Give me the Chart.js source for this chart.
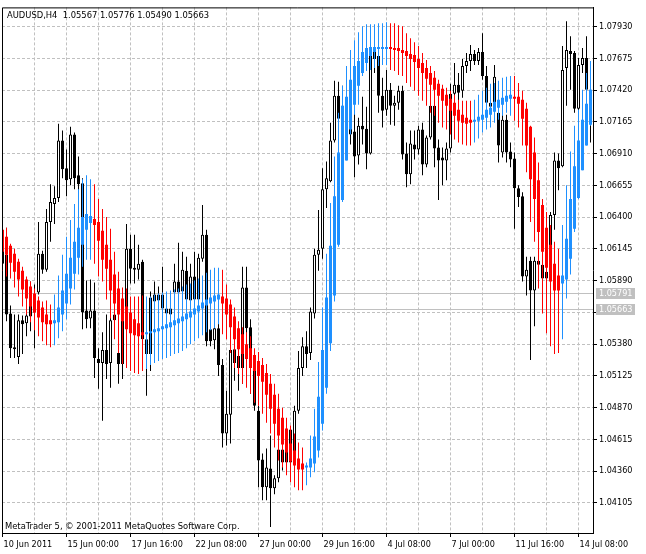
<!DOCTYPE html>
<html>
<head>
<meta charset="utf-8">
<script src="https://cdn.jsdelivr.net/npm/chart.js@4.4.1/dist/chart.umd.min.js"></script>
<style>
  html, body { margin: 0; padding: 0; background: #fff; overflow: hidden; }
  #wrap { position: relative; width: 646px; height: 554px; }
</style>
</head>
<body>
<div id="wrap"><canvas id="chart"></canvas></div>
<script>
// --- texts ---
const symbolTitle = 'AUDUSD,H4  1.05567 1.05776 1.05490 1.05663';
const copyright = 'MetaTrader 5, \u00A9 2001-2011 MetaQuotes Software Corp.';

// one label every 16 bars, one grid line every 8 bars
const dateLabels = ['10 Jun 2011', '15 Jun 00:00', '17 Jun 16:00', '22 Jun 08:00', '27 Jun 00:00',
  '29 Jun 16:00', '4 Jul 08:00', '7 Jul 00:00', '11 Jul 16:00', '14 Jul 08:00'];
const labelStep = 16;
const gridStep = 8;

const priceTicks = [1.04105, 1.04360, 1.04615, 1.04870, 1.05125, 1.05380, 1.05635, 1.05890,
  1.06145, 1.06400, 1.06655, 1.06910, 1.07165, 1.07420, 1.07675, 1.07930];
const priceMin = 1.03862;
const priceMax = 1.08084;

const askPrice = 1.05791;
const bidPrice = 1.05663;

// --- AUDUSD H4 candles ---
const candleOpen = [
  1.06153, 1.06097, 1.05626, 1.05355, 1.05275, 1.05570, 1.05546, 1.05738, 1.05762, 1.05794,
  1.06105, 1.05977, 1.06360, 1.06504, 1.06552, 1.07015, 1.06791, 1.06704, 1.07063, 1.06735,
  1.06672, 1.05650, 1.05586, 1.05650, 1.05259, 1.05227, 1.05331, 1.05227, 1.05618, 1.05307,
  1.05219, 1.05666, 1.06145, 1.05993, 1.05977, 1.06041, 1.05419, 1.05299, 1.05778, 1.05730,
  1.05778, 1.05666, 1.05618, 1.05794, 1.05882, 1.05802, 1.05969, 1.05730, 1.05922, 1.05738,
  1.06065, 1.06257, 1.05499, 1.05411, 1.05507, 1.05211, 1.04661, 1.04812, 1.05339, 1.05283,
  1.05187, 1.05834, 1.05515, 1.05187, 1.04844, 1.04453, 1.04230, 1.04381, 1.04222, 1.04302,
  1.04533, 1.04429, 1.04693, 1.04445, 1.04844, 1.05187, 1.05363, 1.05307, 1.05626, 1.06097,
  1.06145, 1.06624, 1.06688, 1.07015, 1.07374, 1.07294, 1.07206, 1.07110, 1.07087, 1.06895,
  1.07134, 1.07110, 1.06911, 1.07725, 1.07693, 1.07374, 1.07262, 1.07422, 1.07294, 1.07318,
  1.07414, 1.06911, 1.06743, 1.06983, 1.06943, 1.07103, 1.06823, 1.07039, 1.07294, 1.06959,
  1.06879, 1.06855, 1.06951, 1.07390, 1.07462, 1.07414, 1.07613, 1.07653, 1.07709, 1.07653,
  1.07725, 1.07533, 1.07318, 1.07286, 1.07238, 1.06919, 1.07182, 1.06927, 1.06871, 1.06632,
  1.06568, 1.05922, 1.06049, 1.05810, 1.06049, 1.06017, 1.05961, 1.05906, 1.06416, 1.06855,
  1.06807, 1.07597, 1.07733, 1.07717, 1.07270, 1.07621, 1.07677, 1.07422
];
const candleHigh = [
  1.06201, 1.06313, 1.05690, 1.05618, 1.05618, 1.05610, 1.05658, 1.05882, 1.05858, 1.06360,
  1.06129, 1.06464, 1.06664, 1.06648, 1.07150, 1.07095, 1.06943, 1.07126, 1.07079, 1.06887,
  1.06712, 1.05890, 1.05898, 1.05874, 1.05347, 1.05475, 1.05618, 1.05618, 1.05698, 1.05674,
  1.05794, 1.06344, 1.06257, 1.06257, 1.06177, 1.06057, 1.05459, 1.05802, 1.05882, 1.05842,
  1.06001, 1.05698, 1.05746, 1.06025, 1.06193, 1.06121, 1.06081, 1.06025, 1.06121, 1.06105,
  1.06496, 1.06297, 1.05602, 1.05578, 1.05682, 1.05259, 1.05004, 1.05403, 1.05483, 1.05363,
  1.06001, 1.06001, 1.05578, 1.05299, 1.04884, 1.04501, 1.04541, 1.04645, 1.04326, 1.04605,
  1.04605, 1.04717, 1.04709, 1.04884, 1.05323, 1.05435, 1.05483, 1.05674, 1.06145, 1.06456,
  1.06791, 1.06847, 1.07158, 1.07494, 1.07486, 1.07454, 1.07238, 1.07238, 1.07238, 1.07198,
  1.07366, 1.07286, 1.07725, 1.07757, 1.07733, 1.07518, 1.07581, 1.07477, 1.07374, 1.07454,
  1.07454, 1.06999, 1.07095, 1.07095, 1.07134, 1.07158, 1.07055, 1.07342, 1.07318, 1.07023,
  1.06959, 1.06999, 1.07470, 1.07637, 1.07557, 1.07669, 1.07717, 1.07781, 1.07741, 1.07757,
  1.07877, 1.07613, 1.07358, 1.07621, 1.07318, 1.07222, 1.07222, 1.06999, 1.06919, 1.06656,
  1.06599, 1.06081, 1.06081, 1.06081, 1.06121, 1.06057, 1.06025, 1.06440, 1.06919, 1.06911,
  1.07773, 1.07972, 1.07853, 1.07733, 1.07677, 1.07757, 1.07853, 1.07597
];
const candleLow = [
  1.05953, 1.05562, 1.05267, 1.05267, 1.05219, 1.05299, 1.05443, 1.05483, 1.05347, 1.05778,
  1.05945, 1.05961, 1.06201, 1.06344, 1.06520, 1.06712, 1.06568, 1.06656, 1.06624, 1.06616,
  1.05499, 1.05507, 1.05507, 1.05108, 1.05020, 1.04764, 1.05100, 1.05028, 1.05499, 1.05060,
  1.05100, 1.05499, 1.05866, 1.05866, 1.05898, 1.05187, 1.04964, 1.05163, 1.05642, 1.05626,
  1.05626, 1.05578, 1.05578, 1.05706, 1.05682, 1.05722, 1.05722, 1.05706, 1.05722, 1.05722,
  1.06041, 1.05363, 1.05363, 1.05339, 1.05124, 1.04549, 1.04565, 1.04581, 1.05084, 1.05004,
  1.05060, 1.05443, 1.04980, 1.04844, 1.04230, 1.04126, 1.04126, 1.03910, 1.04174, 1.04270,
  1.04365, 1.04397, 1.04381, 1.04405, 1.04820, 1.05124, 1.05187, 1.05251, 1.05586, 1.05969,
  1.06065, 1.06472, 1.06680, 1.06999, 1.06919, 1.07158, 1.06919, 1.06983, 1.06720, 1.06823,
  1.06983, 1.06783, 1.06903, 1.07557, 1.07238, 1.07119, 1.07214, 1.07142, 1.07134, 1.07262,
  1.06863, 1.06640, 1.06664, 1.06863, 1.06903, 1.06735, 1.06799, 1.07023, 1.06799, 1.06536,
  1.06656, 1.06696, 1.06919, 1.07318, 1.07238, 1.07358, 1.07557, 1.07573, 1.07621, 1.07621,
  1.07502, 1.07254, 1.07222, 1.07270, 1.06839, 1.06879, 1.06839, 1.06799, 1.06305, 1.06480,
  1.05882, 1.05770, 1.05251, 1.05523, 1.05922, 1.05802, 1.05842, 1.05866, 1.06297, 1.06616,
  1.06799, 1.07294, 1.07422, 1.07238, 1.07222, 1.07557, 1.07158, 1.06999
];
const candleClose = [
  1.06025, 1.05618, 1.05347, 1.05339, 1.05570, 1.05538, 1.05610, 1.05602, 1.05634, 1.06105,
  1.05977, 1.06360, 1.06520, 1.06552, 1.07015, 1.06783, 1.06696, 1.07063, 1.06712, 1.06664,
  1.05634, 1.05578, 1.05650, 1.05267, 1.05227, 1.05331, 1.05219, 1.05570, 1.05570, 1.05219,
  1.05658, 1.06145, 1.05985, 1.05977, 1.06025, 1.05419, 1.05299, 1.05754, 1.05722, 1.05778,
  1.05666, 1.05626, 1.05666, 1.05882, 1.05794, 1.05977, 1.05738, 1.05922, 1.05738, 1.06073,
  1.06257, 1.05403, 1.05403, 1.05507, 1.05211, 1.04661, 1.04820, 1.05331, 1.05227, 1.05187,
  1.05834, 1.05507, 1.05187, 1.04884, 1.04445, 1.04230, 1.04389, 1.04222, 1.04302, 1.04533,
  1.04429, 1.04693, 1.04429, 1.04844, 1.05187, 1.05363, 1.05299, 1.05642, 1.06097, 1.06137,
  1.06624, 1.06712, 1.07015, 1.07374, 1.07190, 1.07190, 1.07095, 1.07063, 1.06887, 1.07134,
  1.07103, 1.06911, 1.07693, 1.07669, 1.07374, 1.07254, 1.07422, 1.07294, 1.07318, 1.07414,
  1.06903, 1.06743, 1.06991, 1.06943, 1.07103, 1.06823, 1.07039, 1.07294, 1.06951, 1.06855,
  1.06855, 1.06951, 1.07390, 1.07462, 1.07398, 1.07613, 1.07653, 1.07709, 1.07653, 1.07725,
  1.07533, 1.07318, 1.07286, 1.07526, 1.06975, 1.07182, 1.06919, 1.06863, 1.06632, 1.06560,
  1.05922, 1.05977, 1.05810, 1.06049, 1.06017, 1.05906, 1.05906, 1.06416, 1.06855, 1.06791,
  1.07581, 1.07741, 1.07709, 1.07270, 1.07621, 1.07677, 1.07422, 1.07238
];

// --- colour candle indicator (blue = rising, red = falling) ---
const indOpen = [
  1.06297, 1.06241, 1.06169, 1.06105, 1.06041, 1.05969, 1.05898, 1.05842, 1.05786, 1.05730,
  1.05674, 1.05618, 1.05570, 1.05546, 1.05554, 1.05618, 1.05706, 1.05826, 1.05945, 1.06073,
  1.06177, 1.06297, 1.06352, 1.06384, 1.06360, 1.06289, 1.06177, 1.06057, 1.05938, 1.05826,
  1.05746, 1.05682, 1.05634, 1.05578, 1.05546, 1.05475, 1.05459, 1.05467, 1.05475, 1.05483,
  1.05499, 1.05507, 1.05515, 1.05531, 1.05546, 1.05562, 1.05578, 1.05594, 1.05618, 1.05642,
  1.05666, 1.05690, 1.05706, 1.05722, 1.05738, 1.05762, 1.05746, 1.05698, 1.05602, 1.05507,
  1.05459, 1.05379, 1.05347, 1.05291, 1.05243, 1.05211, 1.05147, 1.05060, 1.04972, 1.04860,
  1.04788, 1.04701, 1.04581, 1.04525, 1.04461, 1.04421, 1.04389, 1.04389, 1.04421, 1.04525,
  1.04740, 1.05028, 1.05387, 1.05770, 1.06177, 1.06536, 1.06855, 1.07103, 1.07302, 1.07454,
  1.07557, 1.07637, 1.07693, 1.07725, 1.07749, 1.07749, 1.07749, 1.07765, 1.07757, 1.07757,
  1.07741, 1.07733, 1.07709, 1.07701, 1.07669, 1.07637, 1.07597, 1.07557, 1.07518, 1.07470,
  1.07430, 1.07382, 1.07350, 1.07318, 1.07262, 1.07222, 1.07198, 1.07182, 1.07166, 1.07174,
  1.07182, 1.07198, 1.07222, 1.07246, 1.07278, 1.07302, 1.07326, 1.07350, 1.07366, 1.07366,
  1.07342, 1.07270, 1.07126, 1.06919, 1.06696, 1.06496, 1.06313, 1.06177, 1.06025, 1.05930,
  1.05866, 1.05898, 1.06065, 1.06305, 1.06552, 1.06775, 1.06975, 1.07142
];
const indHigh = [
  1.06313, 1.06313, 1.06185, 1.06145, 1.06065, 1.06001, 1.05922, 1.05882, 1.05826, 1.05762,
  1.05722, 1.05730, 1.05698, 1.05778, 1.05930, 1.06097, 1.06241, 1.06376, 1.06504, 1.06624,
  1.06704, 1.06735, 1.06704, 1.06664, 1.06544, 1.06464, 1.06400, 1.06305, 1.06121, 1.05961,
  1.05834, 1.05826, 1.05762, 1.05762, 1.05762, 1.05770, 1.05762, 1.05762, 1.05778, 1.05786,
  1.05794, 1.05802, 1.05810, 1.05818, 1.05826, 1.05842, 1.05858, 1.05866, 1.05890, 1.05906,
  1.05930, 1.05953, 1.05977, 1.05993, 1.05993, 1.05977, 1.05858, 1.05738, 1.05674, 1.05562,
  1.05515, 1.05475, 1.05443, 1.05347, 1.05315, 1.05267, 1.05219, 1.05140, 1.05060, 1.04980,
  1.04868, 1.04788, 1.04725, 1.04661, 1.04589, 1.04549, 1.04429, 1.04645, 1.04860, 1.05235,
  1.05674, 1.06105, 1.06512, 1.06887, 1.07238, 1.07454, 1.07613, 1.07741, 1.07821, 1.07885,
  1.07933, 1.07948, 1.07948, 1.07948, 1.07956, 1.07956, 1.07964, 1.07956, 1.07956, 1.07940,
  1.07933, 1.07877, 1.07837, 1.07805, 1.07773, 1.07717, 1.07661, 1.07613, 1.07573, 1.07502,
  1.07462, 1.07438, 1.07414, 1.07382, 1.07342, 1.07334, 1.07334, 1.07334, 1.07342, 1.07382,
  1.07414, 1.07438, 1.07470, 1.07477, 1.07494, 1.07518, 1.07526, 1.07533, 1.07533, 1.07477,
  1.07414, 1.07318, 1.07134, 1.07039, 1.06839, 1.06544, 1.06440, 1.06336, 1.06201, 1.06145,
  1.06336, 1.06656, 1.06927, 1.07134, 1.07262, 1.07422, 1.07557, 1.07653
];
const indLow = [
  1.05953, 1.05922, 1.05906, 1.05834, 1.05762, 1.05682, 1.05618, 1.05554, 1.05491, 1.05443,
  1.05403, 1.05371, 1.05355, 1.05371, 1.05427, 1.05483, 1.05578, 1.05698, 1.05818, 1.05938,
  1.06001, 1.06057, 1.06057, 1.06025, 1.05922, 1.05882, 1.05738, 1.05586, 1.05419, 1.05307,
  1.05219, 1.05187, 1.05163, 1.05147, 1.05140, 1.05163, 1.05179, 1.05211, 1.05227, 1.05243,
  1.05259, 1.05267, 1.05283, 1.05299, 1.05307, 1.05323, 1.05347, 1.05379, 1.05403, 1.05427,
  1.05451, 1.05475, 1.05491, 1.05507, 1.05538, 1.05459, 1.05419, 1.05307, 1.05187, 1.05140,
  1.05060, 1.05028, 1.04980, 1.04908, 1.04884, 1.04820, 1.04748, 1.04661, 1.04549, 1.04445,
  1.04389, 1.04326, 1.04270, 1.04230, 1.04206, 1.04206, 1.04246, 1.04310, 1.04349, 1.04469,
  1.04685, 1.04980, 1.05323, 1.05722, 1.06161, 1.06520, 1.06855, 1.07063, 1.07222, 1.07302,
  1.07533, 1.07573, 1.07581, 1.07597, 1.07613, 1.07621, 1.07621, 1.07581, 1.07573, 1.07541,
  1.07533, 1.07477, 1.07446, 1.07414, 1.07374, 1.07334, 1.07294, 1.07238, 1.07214, 1.07158,
  1.07119, 1.07103, 1.07063, 1.07023, 1.06999, 1.06983, 1.06975, 1.06975, 1.06999, 1.07031,
  1.07079, 1.07103, 1.07119, 1.07158, 1.07182, 1.07214, 1.07238, 1.07214, 1.07174, 1.07119,
  1.06975, 1.06759, 1.06360, 1.06201, 1.05826, 1.05626, 1.05467, 1.05363, 1.05299, 1.05307,
  1.05419, 1.05746, 1.05938, 1.06280, 1.06544, 1.06775, 1.06975, 1.07134
];
const indClose = [
  1.06121, 1.06097, 1.06033, 1.05961, 1.05898, 1.05818, 1.05746, 1.05682, 1.05634, 1.05594,
  1.05554, 1.05538, 1.05538, 1.05570, 1.05674, 1.05810, 1.05945, 1.06073, 1.06201, 1.06313,
  1.06400, 1.06424, 1.06408, 1.06336, 1.06209, 1.06057, 1.05985, 1.05810, 1.05706, 1.05618,
  1.05562, 1.05499, 1.05467, 1.05451, 1.05443, 1.05451, 1.05475, 1.05483, 1.05499, 1.05507,
  1.05523, 1.05538, 1.05554, 1.05570, 1.05586, 1.05602, 1.05626, 1.05642, 1.05666, 1.05690,
  1.05714, 1.05738, 1.05754, 1.05770, 1.05778, 1.05706, 1.05618, 1.05515, 1.05419, 1.05339,
  1.05299, 1.05259, 1.05187, 1.05163, 1.05124, 1.05076, 1.04972, 1.04860, 1.04740, 1.04645,
  1.04573, 1.04509, 1.04437, 1.04405, 1.04373, 1.04373, 1.04405, 1.04461, 1.04637, 1.04956,
  1.05331, 1.05754, 1.06169, 1.06568, 1.06919, 1.07294, 1.07366, 1.07502, 1.07613, 1.07653,
  1.07725, 1.07757, 1.07765, 1.07765, 1.07765, 1.07765, 1.07765, 1.07749, 1.07741, 1.07733,
  1.07717, 1.07693, 1.07669, 1.07645, 1.07597, 1.07557, 1.07510, 1.07462, 1.07422, 1.07374,
  1.07334, 1.07294, 1.07254, 1.07214, 1.07174, 1.07158, 1.07150, 1.07158, 1.07182, 1.07206,
  1.07222, 1.07262, 1.07278, 1.07326, 1.07342, 1.07358, 1.07374, 1.07382, 1.07350, 1.07310,
  1.07190, 1.06975, 1.06704, 1.06544, 1.06280, 1.06121, 1.05993, 1.05882, 1.05810, 1.05810,
  1.05930, 1.06225, 1.06544, 1.06807, 1.07015, 1.07182, 1.07310, 1.07422
];

// --- styling ---
const UP_COLOR = '#1E90FF';
const DOWN_COLOR = '#FF0000';
const GRID_COLOR = '#C0C0C0';
const LEVEL_COLOR = '#C0C0C0';
const FONT_FAMILY = "'DejaVu Sans Condensed', 'DejaVu Sans', sans-serif";
const FONT_SIZE = 9;
const FONT = FONT_SIZE + 'px ' + FONT_FAMILY;
const TEXT_FONT = '9.3px ' + FONT_FAMILY;

const barIdx = candleOpen.map((_, i) => i);
const candleUp = barIdx.map(i => candleClose[i] >= candleOpen[i]);
const indUp = barIdx.map(i => indClose[i] >= indOpen[i]);
const gridIdx = [];
for (let v = 0; v < barIdx.length; v += gridStep) gridIdx.push(v);

const barCommon = { grouped: false, borderSkipped: false, inflateAmount: 0, borderWidth: 0 };

const chartDecor = {
  id: 'chartDecor',
  beforeDatasetsDraw(chart) {
    const { ctx, chartArea: a, scales: { y } } = chart;
    ctx.save();
    ctx.strokeStyle = LEVEL_COLOR;
    ctx.lineWidth = 1;
    [askPrice, bidPrice].forEach(p => {
      const py = Math.round(y.getPixelForValue(p)) + 0.5;
      ctx.beginPath();
      ctx.moveTo(a.left, py);
      ctx.lineTo(a.right, py);
      ctx.stroke();
    });
    ctx.restore();
  },
  afterDraw(chart) {
    const { ctx, chartArea: a, scales: { y } } = chart;
    ctx.save();
    // left and top edge of the frame
    ctx.strokeStyle = '#000';
    ctx.lineWidth = 1;
    ctx.beginPath();
    ctx.moveTo(a.left + 0.5, a.bottom);
    ctx.lineTo(a.left + 0.5, a.top + 0.5);
    ctx.lineTo(a.right, a.top + 0.5);
    ctx.stroke();

    // ask / bid price tags on the price scale
    ctx.font = FONT;
    ctx.textAlign = 'left';
    ctx.textBaseline = 'middle';
    [askPrice, bidPrice].forEach(p => {
      const py = Math.round(y.getPixelForValue(p));
      ctx.fillStyle = LEVEL_COLOR;
      ctx.fillRect(a.right + 3, py - 5, 39, 11);
      ctx.fillStyle = '#fff';
      ctx.fillText(p.toFixed(5), a.right + 6, py + 0.5);
    });

    ctx.font = TEXT_FONT;
    ctx.fillStyle = '#000';
    ctx.textBaseline = 'alphabetic';
    ctx.fillText(symbolTitle, a.left + 5, a.top + 11);
    ctx.fillText(copyright, a.left + 3, a.bottom - 4);
    ctx.restore();
  }
};

new Chart(document.getElementById('chart'), {
  type: 'bar',
  data: {
    datasets: [
      {
        ...barCommon,
        label: 'Indicator body',
        data: barIdx.map(i => ({ x: i, y: [indOpen[i], indClose[i]] })),
        backgroundColor: barIdx.map(i => indUp[i] ? UP_COLOR : DOWN_COLOR),
        barThickness: 3
      },
      {
        ...barCommon,
        label: 'Indicator range',
        data: barIdx.map(i => ({ x: i, y: [indLow[i], indHigh[i]] })),
        backgroundColor: barIdx.map(i => indUp[i] ? UP_COLOR : DOWN_COLOR),
        barThickness: 1
      },
      {
        ...barCommon,
        label: 'Candle body',
        data: barIdx.map(i => ({ x: i, y: [candleOpen[i], candleClose[i]] })),
        backgroundColor: barIdx.map(i => candleUp[i] ? '#FFFFFF' : '#000000'),
        borderColor: '#000000',
        borderWidth: 1,
        barThickness: 3
      },
      {
        ...barCommon,
        label: 'Candle range',
        data: barIdx.map(i => ({ x: i, y: [candleLow[i], candleHigh[i]] })),
        backgroundColor: '#000000',
        barThickness: 1
      }
    ]
  },
  options: {
    responsive: true,
    maintainAspectRatio: false,
    animation: false,
    events: [],
    layout: { padding: { left: 2, top: 4, right: 0, bottom: 0 } },
    plugins: {
      legend: { display: false },
      tooltip: { enabled: false },
      title: { display: false }
    },
    scales: {
      x: {
        type: 'linear',
        min: -0.125,
        max: 147.625,
        bounds: 'data',
        offset: false,
        afterBuildTicks: s => { s.ticks = gridIdx.map(v => ({ value: v })); },
        afterFit: s => { s.height = 21; },
        grid: {
          offset: false,
          color: GRID_COLOR,
          lineWidth: 1,
          tickLength: 4,
          tickColor: ctx => (ctx.tick && ctx.tick.value % labelStep === 0) ? '#000' : 'rgba(0,0,0,0)'
        },
        border: { display: true, color: '#000', width: 1, dash: [3, 2] },
        ticks: {
          autoSkip: false,
          maxRotation: 0,
          minRotation: 0,
          align: 'start',
          labelOffset: 1,
          padding: 2,
          color: '#000',
          font: { family: FONT_FAMILY, size: FONT_SIZE },
          callback: v => v % labelStep === 0 ? dateLabels[v / labelStep] : ''
        }
      },
      y: {
        type: 'linear',
        position: 'right',
        min: priceMin,
        max: priceMax,
        bounds: 'data',
        beginAtZero: false,
        afterBuildTicks: s => { s.ticks = priceTicks.map(v => ({ value: v })); },
        afterFit: s => { s.width = 53; },
        grid: { color: GRID_COLOR, lineWidth: 1, tickLength: 4, tickColor: '#000' },
        border: { display: true, color: '#000', width: 1, dash: [3, 2] },
        ticks: {
          autoSkip: false,
          padding: 2,
          color: '#000',
          font: { family: FONT_FAMILY, size: FONT_SIZE },
          callback: v => v.toFixed(5)
        }
      }
    }
  },
  plugins: [chartDecor]
});
</script>
</body>
</html>
